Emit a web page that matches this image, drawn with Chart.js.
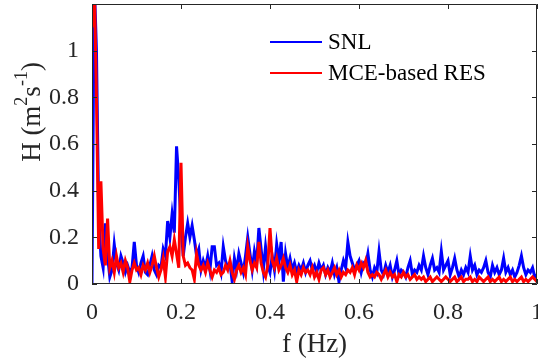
<!DOCTYPE html>
<html>
<head>
<meta charset="utf-8">
<script src="https://cdn.jsdelivr.net/npm/chart.js@4/dist/chart.umd.min.js"></script>
<style>
html,body{margin:0;padding:0;background:#fff;}
#wrap{width:538px;height:363px;position:relative;}
</style>
</head>
<body>
<div id="wrap"><canvas id="c" width="538" height="363"></canvas></div>
<script>
// frequency grid (Hz)
const freqStep = 0.005;
const freqCount = 201;
const xTicks = [0, 0.2, 0.4, 0.6, 0.8, 1];
const yTicks = [0, 0.2, 0.4, 0.6, 0.8, 1];
const seriesNames = ["SNL", "MCE-based RES"];

const snl = [
 0, 1.3, 1.0, 0.3, 0.12, 0.07, 0.26, 0.12, 0.03, 0.06,
 0.17, 0.09, 0.06, 0.12, 0.09, 0.05, 0.08, 0.05, 0.07, 0.18,
 0.08, 0.05, 0.09, 0.12, 0.05, 0.04, 0.08, 0.12, 0.06, 0.04,
 0.08, 0.07, 0.15, 0.12, 0.27, 0.2, 0.3, 0.22, 0.59, 0.45,
 0.25, 0.12, 0.2, 0.26, 0.2, 0.25, 0.19, 0.12, 0.15, 0.06,
 0.1, 0.07, 0.12, 0.06, 0.16, 0.16, 0.08, 0.09, 0.05, 0.16,
 0.1, 0.07, 0.09, 0.01, 0.11, 0.06, 0.13, 0.09, 0.05, 0.12,
 0.2, 0.13, 0.06, 0.14, 0.09, 0.24, 0.15, 0.06, 0.16, 0.08,
 0.05, 0.12, 0.06, 0.17, 0.1, 0.18, 0.01, 0.13, 0.07, 0.11,
 0.06, 0.09, 0.05, 0.08, 0.06, 0.09, 0.05, 0.08, 0.1, 0.06,
 0.08, 0.05, 0.09, 0.06, 0.08, 0.04, 0.07, 0.05, 0.09, 0.04,
 0.07, 0.01, 0.06, 0.1, 0.07, 0.18, 0.12, 0.09, 0.06, 0.08,
 0.1, 0.05, 0.09, 0.08, 0.13, 0.06, 0.03, 0.07, 0.05, 0.14,
 0.06, 0.04, 0.08, 0.05, 0.08, 0.03, 0.06, 0.1, 0.04, 0.06,
 0.05, 0.03, 0.07, 0.1, 0.04, 0.06, 0.05, 0.08, 0.06, 0.12,
 0.07, 0.04, 0.08, 0.11, 0.06, 0.07, 0.05, 0.14, 0.06, 0.08,
 0.1, 0.04, 0.07, 0.11, 0.06, 0.03, 0.06, 0.04, 0.07, 0.05,
 0.12, 0.06, 0.08, 0.04, 0.06, 0.05, 0.07, 0.1, 0.05, 0.03,
 0.08, 0.05, 0.07, 0.04, 0.06, 0.11, 0.05, 0.07, 0.04, 0.06,
 0.03, 0.05, 0.08, 0.12, 0.07, 0.04, 0.06, 0.05, 0.07, 0.03,
 0.04
];

const mceRes = [
 1.1, 1.3, 0.8, 0.15, 0.44, 0.15, 0.08, 0.28, 0.07, 0.1,
 0.05, 0.12, 0.07, 0.09, 0.05, 0.1, 0.07, 0.01, 0.06, 0.09,
 0.06, 0.07, 0.04, 0.08, 0.06, 0.09, 0.05, 0.08, 0.12, 0.07,
 0.03, 0.06, 0.11, 0.03, 0.14, 0.16, 0.12, 0.19, 0.13, 0.07,
 0.52, 0.12, 0.08, 0.09, 0.07, 0.06, 0.02, 0.13, 0.08, 0.06,
 0.08, 0.05, 0.09, 0.06, 0.03, 0.06, 0.05, 0.07, 0.04, 0.05,
 0.08, 0.06, 0.1, 0.05, 0.02, 0.06, 0.08, 0.05, 0.07, 0.04,
 0.16, 0.1, 0.06, 0.09, 0.07, 0.18, 0.09, 0.05, 0.03, 0.08,
 0.24, 0.1, 0.07, 0.11, 0.06, 0.08, 0.11, 0.07, 0.05, 0.08,
 0.04, 0.06, 0.01, 0.06, 0.04, 0.07, 0.05, 0.06, 0.04, 0.07,
 0.03, 0.05, 0.02, 0.06, 0.07, 0.04, 0.06, 0.03, 0.05, 0.07,
 0.04, 0.06, 0.03, 0.05, 0.04, 0.06, 0.05, 0.07, 0.04, 0.08,
 0.06, 0.09, 0.07, 0.1, 0.05, 0.03, 0.04, 0.03, 0.05, 0.04,
 0.02, 0.04, 0.06, 0.03, 0.05, 0.03, 0.04, 0.01, 0.04, 0.03,
 0.05, 0.03, 0.04, 0.02, 0.03, 0.04, 0.02, 0.03, 0.02, 0.03,
 0.01, 0.02, 0.03, 0.01, 0.02, 0.03, 0.02, 0.01, 0.02, 0.03,
 0.02, 0.01, 0.02, 0.03, 0.01, 0.02, 0.03, 0.01, 0.02, 0.02,
 0.03, 0.01, 0.02, 0.01, 0.03, 0.02, 0.01, 0.02, 0.03, 0.01,
 0.02, 0.01, 0.02, 0.03, 0.01, 0.02, 0.01, 0.02, 0.03, 0.01,
 0.02, 0.01, 0.02, 0.03, 0.01, 0.02, 0.01, 0.02, 0.03, 0.02,
 0.01
];

const freqs = [];
for (let i = 0; i < freqCount; i++) freqs.push(+(i * freqStep).toFixed(3));
const toXY = arr => arr.map((v, i) => ({x: freqs[i], y: v}));

const AXIS_COLOR = '#262626';
const SERIF = '"Liberation Serif", "Times New Roman", serif';

const framePlugin = {
  id: 'frame',
  afterDraw(chart) {
    const ctx = chart.ctx;
    const a = chart.chartArea;
    const xs = chart.scales.x, ys = chart.scales.y;
    ctx.save();
    ctx.strokeStyle = AXIS_COLOR;
    ctx.lineWidth = 1;
    ctx.beginPath();
    ctx.moveTo(a.left + 0.5, a.top + 0.5);
    ctx.lineTo(a.right - 0.5, a.top + 0.5);
    ctx.lineTo(a.right - 0.5, a.bottom - 0.5);
    ctx.lineTo(a.left + 0.5, a.bottom - 0.5);
    ctx.closePath();
    const tl = 5;
    xTicks.forEach(t => {
      const px = Math.round(xs.getPixelForValue(t)) + 0.5;
      ctx.moveTo(px, a.bottom); ctx.lineTo(px, a.bottom - tl);
      ctx.moveTo(px, a.top); ctx.lineTo(px, a.top + tl);
    });
    yTicks.forEach(t => {
      const py = Math.round(ys.getPixelForValue(t)) + 0.5;
      ctx.moveTo(a.left, py); ctx.lineTo(a.left + tl, py);
      ctx.moveTo(a.right, py); ctx.lineTo(a.right - tl, py);
    });
    ctx.stroke();

    ctx.fillStyle = AXIS_COLOR;
    ctx.font = '27px ' + SERIF;
    ctx.textAlign = 'center';
    ctx.textBaseline = 'alphabetic';
    ctx.fillText('f (Hz)', (a.left + a.right) / 2, 352);

    ctx.translate(40, 112);
    ctx.rotate(-Math.PI / 2);
    const parts = [
      {t: 'H (m', f: 27, dy: 0},
      {t: '2', f: 18, dy: -13},
      {t: 's', f: 27, dy: 0},
      {t: '-1', f: 18, dy: -13},
      {t: ')', f: 27, dy: 0}
    ];
    let total = 0;
    parts.forEach(p => { ctx.font = p.f + 'px ' + SERIF; p.w = ctx.measureText(p.t).width; total += p.w; });
    let cx = -total / 2;
    ctx.textAlign = 'left';
    parts.forEach(p => { ctx.font = p.f + 'px ' + SERIF; ctx.fillText(p.t, cx, p.dy); cx += p.w; });
    ctx.restore();

    ctx.save();
    const items = [{name: seriesNames[0], color: '#0000ff', y: 42}, {name: seriesNames[1], color: '#ff0000', y: 73}];
    ctx.font = '23px ' + SERIF;
    ctx.textBaseline = 'middle';
    ctx.textAlign = 'left';
    items.forEach(it => {
      ctx.strokeStyle = it.color;
      ctx.lineWidth = 2;
      ctx.beginPath();
      ctx.moveTo(270, it.y); ctx.lineTo(322, it.y);
      ctx.stroke();
      ctx.fillStyle = '#000';
      ctx.fillText(it.name, 328, it.y + 1);
    });
    ctx.restore();
  }
};

new Chart(document.getElementById('c'), {
  type: 'line',
  data: {
    datasets: [
      {label: seriesNames[0], data: toXY(snl), borderColor: '#0000ff', borderWidth: 3, pointRadius: 0, tension: 0, order: 2, clip: 0},
      {label: seriesNames[1], data: toXY(mceRes), borderColor: '#ff0000', borderWidth: 3, pointRadius: 0, tension: 0, order: 1, clip: 0}
    ]
  },
  options: {
    responsive: false,
    animation: false,
    layout: {padding: {top: 4, right: 1, left: 0, bottom: 0}},
    plugins: {legend: {display: false}, tooltip: {enabled: false}},
    scales: {
      x: {
        type: 'linear', min: 0, max: 1,
        afterFit: s => { s.height = 79; s.paddingLeft = 0; s.paddingRight = 0; },
        afterBuildTicks: s => { s.ticks = xTicks.map(v => ({value: v})); },
        grid: {display: false, drawTicks: false},
        border: {display: false},
        ticks: {padding: 14, color: AXIS_COLOR, font: {family: SERIF, size: 24}, maxRotation: 0,
                callback: v => String(v)}
      },
      y: {
        type: 'linear', min: 0, max: 1.2,
        afterFit: s => { s.width = 92; s.paddingTop = 0; s.paddingBottom = 0; },
        afterBuildTicks: s => { s.ticks = yTicks.map(v => ({value: v})); },
        grid: {display: false, drawTicks: false},
        border: {display: false},
        ticks: {padding: 13, color: AXIS_COLOR, font: {family: SERIF, size: 24},
                callback: v => String(v)}
      }
    }
  },
  plugins: [framePlugin]
});
</script>
</body>
</html>
